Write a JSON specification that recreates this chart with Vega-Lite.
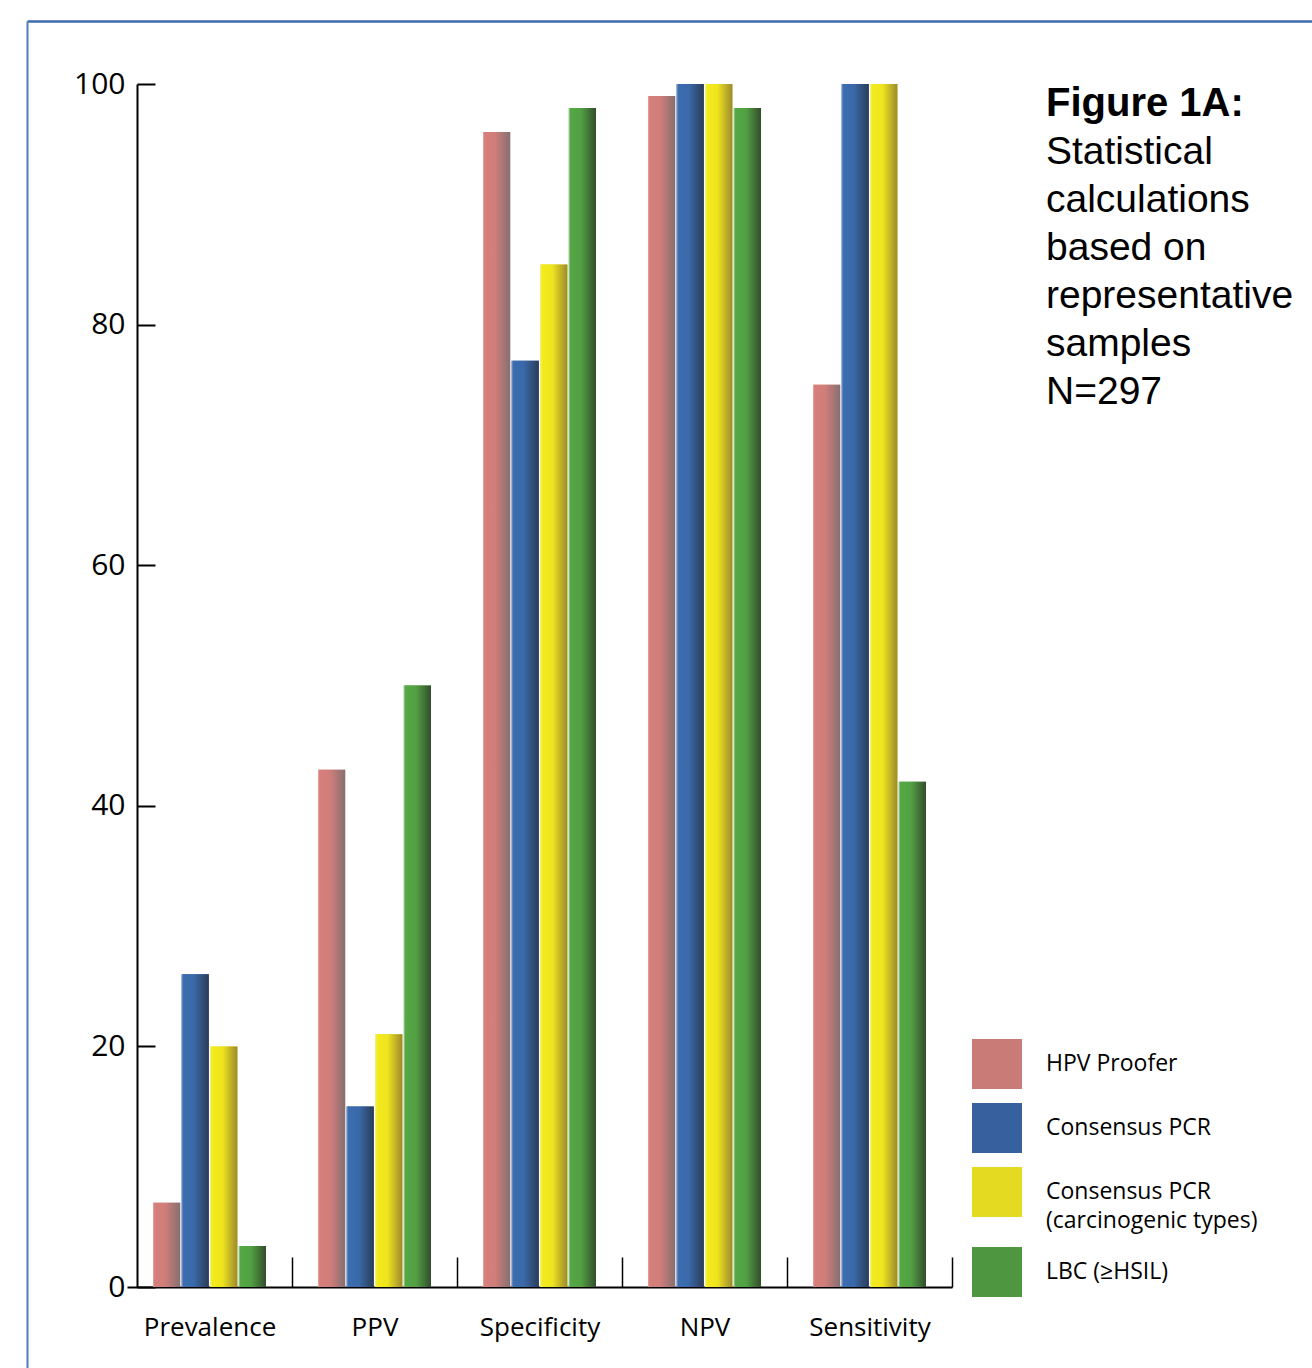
{
  "$schema": "https://vega.github.io/schema/vega-lite/v6.json",
  "autosize": "none",
  "width": 825,
  "height": 1203,
  "padding": {"left": 127, "top": 84, "right": 360, "bottom": 81},
  "background": "white",
  "title": {
    "text": "Figure 1A:",
    "subtitle": ["Statistical", "calculations", "based on", "representative", "samples", "N=297"],
    "orient": "top",
    "anchor": "start",
    "frame": "group",
    "align": "left",
    "dx": 919,
    "dy": 398,
    "font": "Liberation Sans",
    "fontSize": 40,
    "fontWeight": "bold",
    "color": "black",
    "subtitleFont": "Liberation Sans",
    "subtitleFontSize": 39,
    "subtitleFontWeight": "normal",
    "subtitleColor": "black",
    "subtitleLineHeight": 48,
    "subtitlePadding": 9
  },
  "data": {
    "values": [
      {"measure": "Prevalence", "method": "HPV Proofer", "value": 7},
      {"measure": "Prevalence", "method": "Consensus PCR", "value": 26},
      {"measure": "Prevalence", "method": "Consensus PCR (carcinogenic types)", "value": 20},
      {"measure": "Prevalence", "method": "LBC (≥HSIL)", "value": 3.4},
      {"measure": "PPV", "method": "HPV Proofer", "value": 43},
      {"measure": "PPV", "method": "Consensus PCR", "value": 15},
      {"measure": "PPV", "method": "Consensus PCR (carcinogenic types)", "value": 21},
      {"measure": "PPV", "method": "LBC (≥HSIL)", "value": 50},
      {"measure": "Specificity", "method": "HPV Proofer", "value": 96},
      {"measure": "Specificity", "method": "Consensus PCR", "value": 77},
      {"measure": "Specificity", "method": "Consensus PCR (carcinogenic types)", "value": 85},
      {"measure": "Specificity", "method": "LBC (≥HSIL)", "value": 98},
      {"measure": "NPV", "method": "HPV Proofer", "value": 99},
      {"measure": "NPV", "method": "Consensus PCR", "value": 100},
      {"measure": "NPV", "method": "Consensus PCR (carcinogenic types)", "value": 100},
      {"measure": "NPV", "method": "LBC (≥HSIL)", "value": 98},
      {"measure": "Sensitivity", "method": "HPV Proofer", "value": 75},
      {"measure": "Sensitivity", "method": "Consensus PCR", "value": 100},
      {"measure": "Sensitivity", "method": "Consensus PCR (carcinogenic types)", "value": 100},
      {"measure": "Sensitivity", "method": "LBC (≥HSIL)", "value": 42}
    ]
  },
  "layer": [
    {
      "encoding": {
        "x": {
          "field": "measure",
          "type": "nominal",
          "sort": ["Prevalence", "PPV", "Specificity", "NPV", "Sensitivity"],
          "scale": {"paddingInner": 0, "paddingOuter": 0},
          "axis": {
            "title": null,
            "labelAngle": 0,
            "labelFont": "Open Sans",
            "labelFontSize": 26,
            "labelColor": "black",
            "labelPadding": 57,
            "domainColor": "black",
            "domainWidth": 2,
            "tickColor": "black",
            "tickWidth": 1.5,
            "tickSize": -30,
            "tickBand": "extent",
            "tickOpacity": {"condition": {"test": "datum.extra", "value": 0}, "value": 1}
          }
        },
        "xOffset": {
          "field": "method",
          "type": "nominal",
          "scale": {
            "domain": ["HPV Proofer", "Consensus PCR", "Consensus PCR (carcinogenic types)", "LBC (≥HSIL)"],
            "paddingInner": 0.05,
            "paddingOuter": 0.909
          }
        },
        "y": {
          "field": "value",
          "type": "quantitative",
          "scale": {"domain": [0, 100]},
          "axis": {
            "title": null,
            "values": [0, 20, 40, 60, 80, 100],
            "grid": false,
            "offset": -10,
            "labelFont": "Open Sans",
            "labelFontSize": 30,
            "labelColor": "black",
            "labelPadding": 30,
            "domainColor": "black",
            "domainWidth": 2,
            "tickColor": "black",
            "tickWidth": 2,
            "tickSize": -18
          }
        }
      },
      "layer": [
        {
          "mark": {"type": "bar", "opacity": 1},
          "encoding": {
            "color": {
              "field": "method",
              "type": "nominal",
              "scale": {
                "domain": ["HPV Proofer", "Consensus PCR", "Consensus PCR (carcinogenic types)", "LBC (≥HSIL)"],
                "range": ["#c97b78", "#36619e", "#e5da22", "#4e9740"]
              },
              "legend": {
                "title": null,
                "orient": "none",
                "legendX": 845,
                "legendY": 955,
                "symbolType": "square",
                "symbolSize": 2500,
                "symbolStrokeWidth": 0,
                "symbolOpacity": 1,
                "labelFont": "Open Sans",
                "labelFontSize": 23,
                "labelColor": "black",
                "labelOffset": 24,
                "labelLimit": 400,
                "rowPadding": 14,
                "labelExpr": "datum.label === 'Consensus PCR (carcinogenic types)' ? ['Consensus PCR', '(carcinogenic types)'] : datum.label"
              }
            }
          }
        },
        {
          "mark": {"type": "bar", "opacity": 1},
          "encoding": {
            "color": {
              "condition": [
                {"test": "datum.method === 'HPV Proofer'", "value": {"gradient": "linear", "x1": 0, "y1": 0, "x2": 1, "y2": 0, "stops": [
                  {"offset": 0, "color": "#e8aaa6"}, {"offset": 0.06, "color": "#d67f7b"}, {"offset": 0.45, "color": "#d07d7a"}, {"offset": 1, "color": "#857070"}]}},
                {"test": "datum.method === 'Consensus PCR'", "value": {"gradient": "linear", "x1": 0, "y1": 0, "x2": 1, "y2": 0, "stops": [
                  {"offset": 0, "color": "#85a5d3"}, {"offset": 0.06, "color": "#3b6db0"}, {"offset": 0.45, "color": "#3a69a8"}, {"offset": 1, "color": "#2a3c58"}]}},
                {"test": "datum.method === 'Consensus PCR (carcinogenic types)'", "value": {"gradient": "linear", "x1": 0, "y1": 0, "x2": 1, "y2": 0, "stops": [
                  {"offset": 0, "color": "#f8f3a6"}, {"offset": 0.06, "color": "#f3ec1c"}, {"offset": 0.45, "color": "#efe41e"}, {"offset": 1, "color": "#9c8a2e"}]}}
              ],
              "value": {"gradient": "linear", "x1": 0, "y1": 0, "x2": 1, "y2": 0, "stops": [
                {"offset": 0, "color": "#a4d29a"}, {"offset": 0.06, "color": "#55a845"}, {"offset": 0.45, "color": "#52a043"}, {"offset": 1, "color": "#334d2c"}]}
            }
          }
        }
      ]
    },
    {
      "mark": {"type": "point", "opacity": 0},
      "encoding": {
        "x": {
          "field": "measure",
          "type": "nominal",
          "scale": {"range": [-100, 1185]},
          "axis": {"orient": "top", "offset": 63, "title": null, "ticks": false, "labels": false, "domainColor": "#3d6bb0", "domainWidth": 2.5}
        },
        "y": {
          "field": "value",
          "type": "quantitative",
          "scale": {"range": [1284, -63]},
          "axis": {"orient": "left", "offset": 100, "title": null, "ticks": false, "labels": false, "grid": false, "domainColor": "#4f7cc0", "domainWidth": 2}
        }
      }
    }
  ],
  "resolve": {"scale": {"x": "independent", "y": "independent"}, "axis": {"x": "independent", "y": "independent"}},
  "config": {
    "view": {"stroke": null},
    "style": {"guide-label": {"lineHeight": 29}}
  }
}
